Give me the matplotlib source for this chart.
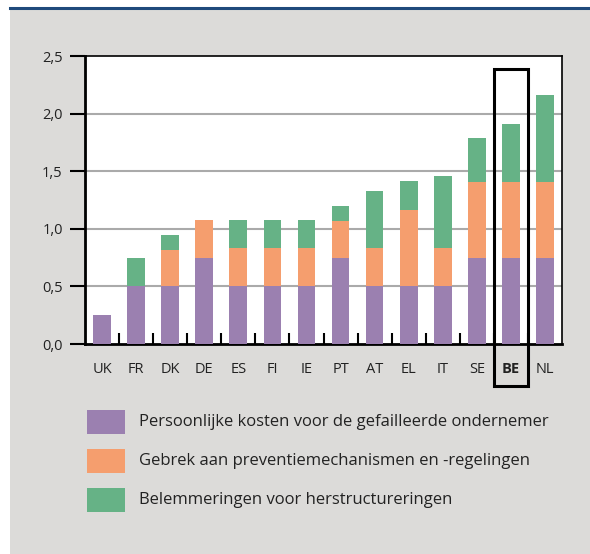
import numpy as np
import matplotlib.pyplot as plt
from matplotlib.patches import Rectangle
from matplotlib.lines import Line2D

plt.rcParams['font.family'] = ['Open Sans', 'DejaVu Sans']

countries = ['UK', 'FR', 'DK', 'DE', 'ES', 'FI', 'IE', 'PT', 'AT', 'EL', 'IT', 'SE', 'BE', 'NL']
persoonlijk = [0.25, 0.5, 0.5, 0.75, 0.5, 0.5, 0.5, 0.75, 0.5, 0.5, 0.5, 0.75, 0.75, 0.75]
preventie = [0.0, 0.0, 0.32, 0.33, 0.33, 0.33, 0.33, 0.32, 0.33, 0.665, 0.33, 0.66, 0.66, 0.66]
herstructurering = [0.0, 0.25, 0.13, 0.0, 0.25, 0.25, 0.25, 0.13, 0.5, 0.25, 0.625, 0.38, 0.5, 0.75]
labels = ['Persoonlijke kosten voor de gefailleerde ondernemer',
          'Gebrek aan preventiemechanismen en -regelingen',
          'Belemmeringen voor herstructureringen']
yticks = [0, 0.5, 1.0, 1.5, 2.0, 2.5]
ytick_labels = ['0,0', '0,5', '1,0', '1,5', '2,0', '2,5']

purple = '#9b80b0'
orange = '#f59e6e'
green = '#66b286'
bg = '#dcdbd9'

fig = plt.figure(figsize=(5.9, 5.54), dpi=100)
fig.patch.set_facecolor('white')
# grey panel and blue rule at the top
fig.add_artist(Rectangle((10/590, 0), 1, 1 - 9/554, transform=fig.transFigure,
                         facecolor=bg, edgecolor='none', zorder=0))
fig.add_artist(Line2D([10/590, 1], [1 - 8/554, 1 - 8/554], transform=fig.transFigure,
                      color='#1f4a7c', lw=2.2, zorder=1))

ax = fig.add_axes([85/590, 1 - 344/554, 477/590, 288/554])
ax.set_facecolor('white')
x = np.arange(len(countries))
p = np.array(persoonlijk)
o = np.array(preventie)
g = np.array(herstructurering)
w = 0.52
ax.bar(x, p, w, color=purple, zorder=3)
ax.bar(x, o, w, bottom=p, color=orange, zorder=3)
ax.bar(x, g, w, bottom=p + o, color=green, zorder=3)

ax.set_xlim(-0.5, len(countries) - 0.5)
ax.set_ylim(0, 2.5)
ax.set_yticks(yticks)
ax.set_yticklabels(ytick_labels, fontsize=10.5, color='#222222')
for yv in yticks[1:-1]:
    ax.axhline(yv, color='#aaaaaa', lw=1.5, zorder=1)

ax.set_xticks(x)
ax.set_xticklabels(countries, fontsize=10.5, color='#222222')
ax.tick_params(axis='x', which='major', length=0, pad=13)
ax.set_xticks(x[:-1] + 0.5, minor=True)
ax.tick_params(axis='x', which='minor', direction='in', length=8, width=1.5, color='black')
ax.tick_params(axis='y', direction='out', length=11, width=1.5, pad=5)
ax.xaxis.get_ticklabels()[countries.index('BE')].set_fontweight('bold')

ax.spines['left'].set_linewidth(2)
ax.spines['bottom'].set_linewidth(2)
ax.spines['top'].set_linewidth(1.2)
ax.spines['right'].set_linewidth(1.2)

# box around BE
bi = countries.index('BE')
ax.add_patch(Rectangle((bi - 0.5, -0.365), 1.0, 2.385 + 0.365, fill=False,
                       edgecolor='black', lw=2.2, clip_on=False, zorder=5))

# legend
for i, (lab, col) in enumerate(zip(labels, [purple, orange, green])):
    yc = 1 - (422 + 39 * i) / 554
    fig.add_artist(Rectangle((87/590, yc - 12/554), 38/590, 24/554, transform=fig.transFigure,
                             facecolor=col, edgecolor='none', zorder=2))
    fig.text(139/590, yc, lab, fontsize=12, color='#222222', va='center', ha='left')

fig.savefig('out.png', dpi=100, facecolor=fig.get_facecolor())
